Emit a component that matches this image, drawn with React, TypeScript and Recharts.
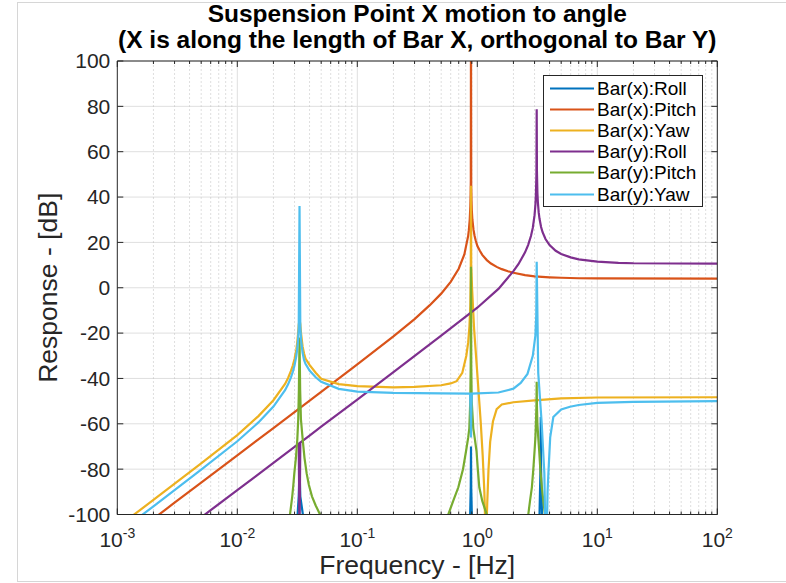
import React from 'react';
import { LineChart, Line, XAxis, YAxis, CartesianGrid, ReferenceLine, Label } from 'recharts';

// [frequency Hz, response dB]
const barXRoll: number[][] = [
  [0.001, -130], [0.0315, -130], [0.0318, -100], [0.0325, -92], [0.033, -80], [0.0335, -92], [0.0352, -100], [0.036, -130],
  [0.86, -130], [0.872, -100], [0.882, -88], [0.886, -70], [0.89, -88], [0.9, -100], [0.91, -130],
  [3.25, -130], [3.3, -100], [3.36, -80], [3.38, -57], [3.4, -80], [3.46, -100], [3.5, -130], [100, -130],
];
const barXPitch: number[][] = [
  [0.002, -101.9], [0.003, -94.8], [0.005, -85.9], [0.01, -73.9], [0.02, -61.9], [0.05, -45.9], [0.1, -33.8],
  [0.2, -21.4], [0.3, -13.8], [0.4, -7.8], [0.5, -2.6], [0.6, 2.6], [0.7, 8.4], [0.78, 14.7], [0.84, 23.0],
  [0.85, 25.3], [0.865, 30.1], [0.875, 35.9], [0.88, 41.3], [0.883, 47.4], [0.886, 120], [0.89, 44.9],
  [0.895, 38], [0.9, 34.2], [0.91, 30], [0.93, 25.5], [0.95, 22.8], [0.97, 20.8], [1.0, 18.5], [1.05, 16.3],
  [1.1, 14.5], [1.2, 12.2], [1.3, 10.7], [1.45, 9.2], [1.6, 8.2], [1.8, 7.3], [2.0, 6.6], [2.5, 5.6],
  [3.0, 5.0], [4, 4.6], [5, 4.4], [7, 4.2], [10, 4.1], [100, 4.0],
];
const barXYaw: number[][] = [
  [0.001, -105.6], [0.002, -93.6], [0.005, -77.4], [0.01, -65], [0.015, -56.6], [0.02, -49.6], [0.025, -42.4],
  [0.0265, -39.8], [0.028, -36.7], [0.029, -34.3], [0.03, -31.4], [0.031, -27.4], [0.0315, -24.7], [0.032, -21],
  [0.0325, -16.5], [0.033, -14], [0.0335, -16], [0.034, -20.2], [0.035, -25.9], [0.036, -29], [0.037, -31.2],
  [0.04, -34], [0.045, -37.5], [0.05, -40.1], [0.07, -42.5], [0.1, -43.4], [0.2, -43.9], [0.3, -43.7],
  [0.5, -43], [0.6, -42.2], [0.673, -41.2], [0.75, -37.5], [0.81, -30], [0.84, -24], [0.86, -17], [0.875, -8],
  [0.882, 5], [0.886, 45], [0.89, 10], [0.904, 0], [0.94, -18], [0.975, -29.7], [1.019, -44], [1.067, -59],
  [1.109, -74], [1.145, -90], [1.165, -105], [1.175, -130], [1.19, -108], [1.21, -95], [1.24, -80], [1.28, -68],
  [1.35, -59], [1.45, -53.5], [1.6, -51.5], [2, -50.5], [3, -49.7], [5, -48.8], [10, -48.4], [100, -48.3],
];
const barYRoll: number[][] = [
  [0.005, -101.3], [0.006, -98.1], [0.01, -89.3], [0.02, -77.2], [0.03, -70.2], [0.0325, -68.8], [0.033, -110],
  [0.0335, -68.3], [0.04, -65.2], [0.05, -61.3], [0.1, -49.3], [0.2, -37.2], [0.5, -21.1], [1.0, -8.8],
  [1.5, -0.5], [2.0, 7.3], [2.2, 10.4], [2.5, 15.6], [2.65, 18.8], [2.8, 22.8], [2.9, 26.4], [3.0, 32],
  [3.05, 36.6], [3.08, 41], [3.11, 50.5], [3.126, 78.7], [3.14, 51.4], [3.17, 41.7], [3.2, 37.4], [3.25, 33.1],
  [3.3, 30.4], [3.4, 26.8], [3.5, 24.5], [3.7, 21.5], [4, 18.8], [4.5, 16.3], [5, 14.9], [6, 13.4], [7, 12.5],
  [10, 11.5], [15, 11.0], [20, 10.8], [100, 10.6],
];
const barYPitch: number[][] = [
  [0.001, -130], [0.0255, -130], [0.02748, -100], [0.0281, -96], [0.0287, -92], [0.0293, -87], [0.02985, -82],
  [0.0308, -75], [0.03162, -67], [0.0322, -58], [0.0326, -45], [0.033, -22], [0.0334, -45], [0.0339, -58],
  [0.03508, -67], [0.0363, -75], [0.03787, -82], [0.0395, -87], [0.0419, -92], [0.045, -96], [0.0489, -100],
  [0.053, -130],
  [0.55, -130], [0.573, -100], [0.63, -94], [0.695, -88], [0.76, -80], [0.806, -72], [0.84, -66], [0.858, -62],
  [0.874, -50], [0.881, -35], [0.886, 9.3], [0.891, -35], [0.898, -50], [0.926, -62], [0.95, -66], [0.985, -72],
  [1.01, -80], [1.039, -88], [1.1, -94], [1.198, -100], [1.25, -130],
  [2.55, -130], [2.66, -100], [2.75, -94], [2.85, -88], [2.93, -80], [3.0, -72], [3.05, -66], [3.08, -60],
  [3.11, -52], [3.126, -41.5], [3.14, -52], [3.17, -60], [3.22, -66], [3.28, -72], [3.35, -80], [3.45, -88],
  [3.55, -94], [3.66, -100], [3.8, -130], [100, -130],
];
const barYYaw: number[][] = [
  [0.001, -108.5], [0.002, -96.4], [0.005, -80.2], [0.01, -67.7], [0.015, -59.4], [0.02, -52.4], [0.025, -45.2],
  [0.0265, -42.6], [0.028, -39.5], [0.029, -37.1], [0.03, -34.2], [0.031, -30.2], [0.0315, -27.5], [0.032, -23.8],
  [0.0325, -17.6], [0.033, 36], [0.0335, -17.2], [0.034, -23], [0.035, -28.7], [0.036, -31.8], [0.037, -33.5],
  [0.04, -36.5], [0.045, -39.5], [0.05, -41.5], [0.07, -44.6], [0.1, -45.8], [0.2, -46.4], [0.5, -46.6],
  [0.87, -46.7], [0.883, -58], [0.886, -66], [0.889, -58], [0.9, -46.7], [1.5, -46.2], [2.0, -44.5],
  [2.3, -42], [2.62, -38], [2.9, -30], [3.05, -21], [3.1, -12], [3.126, 11.5], [3.22, -37.6], [3.44, -59.7],
  [3.62, -81.8], [3.74, -125], [3.85, -90], [3.91, -82], [4.05, -66], [4.3, -57], [5, -53.7], [5.92, -52.5],
  [7, -51.7], [10, -50.8], [20, -50.3], [100, -50],
];

const seriesNames = ['Bar(x):Roll', 'Bar(x):Pitch', 'Bar(x):Yaw', 'Bar(y):Roll', 'Bar(y):Pitch', 'Bar(y):Yaw'];
const seriesColors = ['#0072BD', '#D95319', '#EDB120', '#7E2F8E', '#77AC30', '#4DBEEE'];
const seriesData = [barXRoll, barXPitch, barXYaw, barYRoll, barYPitch, barYYaw];

const xTicks: number[] = [
  0.001, 0.002, 0.003, 0.004, 0.005, 0.006, 0.007, 0.008, 0.009,
  0.01, 0.02, 0.03, 0.04, 0.05, 0.06, 0.07, 0.08, 0.09,
  0.1, 0.2, 0.3, 0.4, 0.5, 0.6, 0.7, 0.8, 0.9,
  1, 2, 3, 4, 5, 6, 7, 8, 9,
  10, 20, 30, 40, 50, 60, 70, 80, 90, 100,
];
const yTicks = [-100, -80, -60, -40, -20, 0, 20, 40, 60, 80, 100];

const W = 786;
const H = 583;
const PLOT_W = 600;
const PLOT_H = 453.5;
const AXIS = '#262626';
const FONT = '"Liberation Sans", Arial, Helvetica, sans-serif';

const isMajor = (v: number) => Math.abs(Math.log10(v) - Math.round(Math.log10(v))) < 1e-6;

const XTick = (p: any) => {
  const v = p.payload.value;
  const major = isMajor(v);
  const len = major ? 6 : 3;
  return (
    <g>
      <line x1={p.x} x2={p.x} y1={p.y} y2={p.y - len} stroke={AXIS} />
      <line x1={p.x} x2={p.x} y1={p.y - PLOT_H} y2={p.y - PLOT_H + len} stroke={AXIS} />
      {major && (
        <text x={p.x} y={p.y + 32.5} textAnchor="middle" fontSize={21} fill={AXIS} fontFamily={FONT}>
          10<tspan dy={-9} fontSize={14}>{Math.round(Math.log10(v))}</tspan>
        </text>
      )}
    </g>
  );
};

const YTick = (p: any) => (
  <g>
    <line x1={p.x} x2={p.x + 6} y1={p.y} y2={p.y} stroke={AXIS} />
    <line x1={p.x + PLOT_W - 6} x2={p.x + PLOT_W} y1={p.y} y2={p.y} stroke={AXIS} />
    <text x={p.x - 7} y={p.y} dy="0.35em" textAnchor="end" fontSize={21} fill={AXIS} fontFamily={FONT}>
      {p.payload.value}
    </text>
  </g>
);

export default function App() {
  const rows = seriesData.map((d) => d.map(([f, db]) => ({ f, db })));
  return (
    <div style={{ position: 'absolute', left: 0, top: 0, width: W, height: H, background: '#fff', fontFamily: FONT }}>
      <div style={{ position: 'absolute', left: 17, top: 2, width: W - 17, height: 578, borderTop: '1px solid #d6d6d6', borderLeft: '1px solid #d6d6d6', borderBottom: '1px solid #d6d6d6' }} />
      <div style={{ position: 'absolute', left: 117.3, top: 0.5, width: PLOT_W, textAlign: 'center', fontWeight: 'bold', fontSize: 24.5, lineHeight: '26px', color: '#000', whiteSpace: 'nowrap' }}>
        <div>Suspension Point X motion to angle</div>
        <div>(X is along the length of Bar X, orthogonal to Bar Y)</div>
      </div>
      <LineChart width={W} height={H} margin={{ top: 61, right: 68.7, bottom: 0, left: 0 }} style={{ position: 'absolute', left: 0, top: 0 }}>
        <CartesianGrid vertical={false} stroke="#dfdfdf" />
        {xTicks.filter((v) => v > 0.001 && v < 100).map((v) => (
          <ReferenceLine key={v} x={v} stroke={isMajor(v) ? '#dfdfdf' : '#bdbdbd'} strokeDasharray={isMajor(v) ? undefined : '1 3'} />
        ))}
        <XAxis dataKey="f" type="number" scale="log" domain={[0.001, 100]} allowDataOverflow ticks={xTicks}
          interval={0} height={68.5} tickSize={0} tickMargin={0} tickLine={false} stroke={AXIS} tick={XTick}>
          <Label content={(lp: any) => (
            <text x={lp.viewBox.x + lp.viewBox.width / 2} y={lp.viewBox.y + 59.5} textAnchor="middle" fontSize={26.5} fill={AXIS} fontFamily={FONT}>
              Frequency - [Hz]
            </text>
          )} />
        </XAxis>
        <YAxis type="number" domain={[-100, 100]} allowDataOverflow ticks={yTicks} interval={0} width={117.3}
          tickSize={0} tickMargin={0} tickLine={false} stroke={AXIS} tick={YTick}>
          <Label content={(lp: any) => {
            const cx = lp.viewBox.x + 57;
            const cy = lp.viewBox.y + lp.viewBox.height / 2;
            return (
              <text x={cx} y={cy} transform={`rotate(-90 ${cx} ${cy})`} textAnchor="middle" fontSize={26.5} fill={AXIS} fontFamily={FONT}>
                Response - [dB]
              </text>
            );
          }} />
        </YAxis>
        {rows.map((d, i) => (
          <Line key={seriesNames[i]} data={d} dataKey="db" name={seriesNames[i]} type="linear" stroke={seriesColors[i]}
            strokeWidth={2.2} dot={false} activeDot={false} isAnimationActive={false} />
        ))}
        <ReferenceLine y={100} stroke={AXIS} />
        <ReferenceLine x={100} stroke={AXIS} />
      </LineChart>
      <div style={{ position: 'absolute', left: 543, top: 75, width: 160, height: 132, boxSizing: 'border-box', border: `1px solid ${AXIS}`, background: '#fff', paddingTop: 2 }}>
        {seriesNames.map((n, i) => (
          <div key={n} style={{ height: 21.1, display: 'flex', alignItems: 'center', fontSize: 19, color: '#000' }}>
            <svg width={53} height={21} style={{ flex: 'none' }}>
              <line x1={6} x2={50} y1={10.5} y2={10.5} stroke={seriesColors[i]} strokeWidth={2.2} />
            </svg>
            <span style={{ lineHeight: '21px' }}>{n}</span>
          </div>
        ))}
      </div>
    </div>
  );
}
